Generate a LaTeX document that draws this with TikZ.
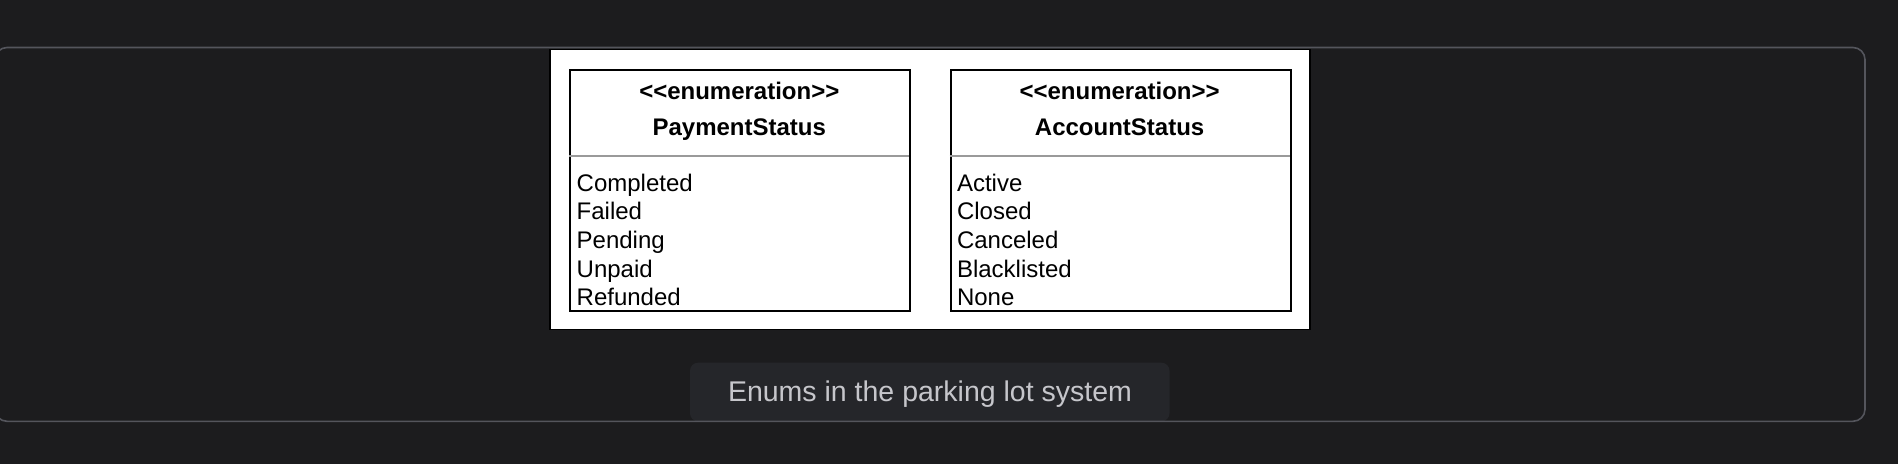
\documentclass[tikz,border=0pt]{standalone}
\usepackage{fontspec}
\setmainfont{Liberation Sans}[Ligatures=TeXOff]
\definecolor{pagebg}{HTML}{1C1C1E}
\definecolor{framegray}{HTML}{54555C}
\definecolor{capbg}{HTML}{25262A}
\definecolor{captext}{HTML}{C6C6CB}
\definecolor{sepgray}{HTML}{9A9A9A}
\begin{document}
\begin{tikzpicture}[x=1pt,y=-1pt,
  umlbox/.style={draw=black, line width=2pt, minimum width=340pt, minimum height=240.7pt, inner sep=0pt, anchor=north west},
  sepline/.style={draw=sepgray, line width=1.6pt},
  titletext/.style={font=\fontsize{24}{28}\selectfont\bfseries, anchor=base, inner sep=0pt, text=black},
  itemtext/.style={font=\fontsize{24}{28}\selectfont, anchor=base west, inner sep=0pt, text=black},
  captiontext/.style={font=\fontsize{28.5}{34}\selectfont, anchor=base, inner sep=0pt, text=captext}]
\useasboundingbox (0,0) rectangle (1898,464);
\fill[pagebg] (0,0) rectangle (1898,464);
% caption background
\fill[capbg, rounded corners=8pt] (690,362.7) rectangle (1169.5,421.3);
% outer frame
\draw[framegray, line width=1.6pt, rounded corners=12pt] (-5,47.5) rectangle (1865,421.3);
% white panel
\fill[white, draw=black, line width=1.2pt] (550,49.7) rectangle (1310,329.7);
% boxes
\node[umlbox] (pay) at (569.3,69.3) {};
\node[umlbox] (acc) at (949.6,69.3) {};
\coordinate (payL) at (569.3,155.7);
\coordinate (payR) at (909.3,155.7);
\coordinate (accL) at (949.6,155.7);
\coordinate (accR) at (1289.6,155.7);
\draw[sepline] (payL) -- (payR);
\draw[sepline] (accL) -- (accR);
% titles
\node[titletext] (payst) at (739.3,99.3) {<{}<enumeration>{}>};
\node[titletext] (payname) at (739.3,135) {PaymentStatus};
\node[titletext] (accst) at (1119.6,99.3) {<{}<enumeration>{}>};
\node[titletext] (accname) at (1119.6,135) {AccountStatus};
% items
\node[itemtext] (p1) at (576.5,191.7) {Completed};
\node[itemtext] (p2) at (576.5,219.5) {Failed};
\node[itemtext] (p3) at (576.5,248.7) {Pending};
\node[itemtext] (p4) at (576.5,277.0) {Unpaid};
\node[itemtext] (p5) at (576.5,305.0) {Refunded};
\node[itemtext] (a1) at (956.8,191.7) {Active};
\node[itemtext] (a2) at (956.8,219.5) {Closed};
\node[itemtext] (a3) at (956.8,248.7) {Canceled};
\node[itemtext] (a4) at (956.8,277.0) {Blacklisted};
\node[itemtext] (a5) at (956.8,305.0) {None};
% caption
\node[captiontext] (cap) at (930,401.5) {Enums in the parking lot system};
\end{tikzpicture}
\end{document}
